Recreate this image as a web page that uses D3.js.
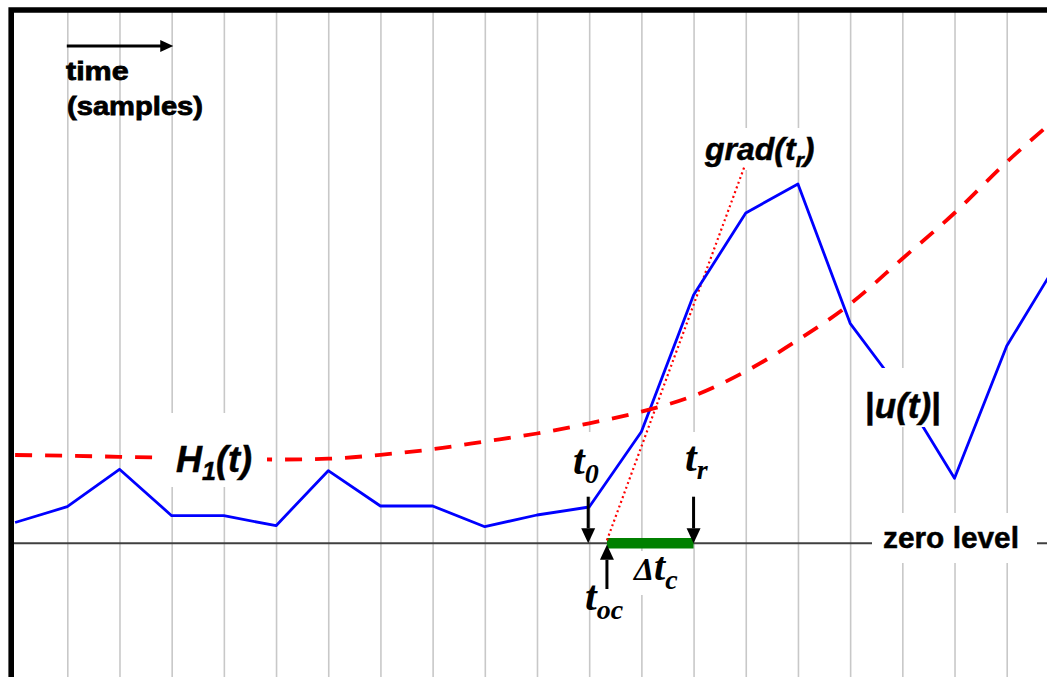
<!DOCTYPE html>
<html>
<head>
<meta charset="utf-8">
<script src="https://cdn.jsdelivr.net/npm/d3@7"></script>
<style>
  body { margin: 0; background: #fff; }
  svg { display: block; }
  .sans { font-family: "Liberation Sans", Arial, sans-serif; font-weight: bold; }
  .serif { font-family: "Liberation Serif", "Times New Roman", serif; font-weight: bold; font-style: italic; }
</style>
</head>
<body>
<svg id="chart" width="1047" height="677"></svg>
<script>
// Sample index (time, in samples)
const samples = d3.range(0, 21);
// Rectified signal |u(t)| per sample
const signal = [2.08, 3.66, 7.40, 2.76, 2.76, 1.76, 7.26, 3.73, 3.73, 1.66, 2.83,
                3.63, 11.16, 24.83, 33.03, 35.93, 22.00, 15.03, 6.50, 19.73, 28.33];
// Adaptive threshold H1(t) per sample
const threshold = [8.83, 8.75, 8.65, 8.55, 8.50, 8.38, 8.46, 8.85, 9.41, 10.18, 10.98,
                   12.00, 13.16, 14.75, 17.20, 20.33, 23.93, 28.46, 33.03, 38.13, 42.70];
// Vertical grid at every sample
const gridSamples = d3.range(1, 21);
// Event markers (sample units)
const onsetSample = 11;        // t0
const riseSample = 13;         // tr
const crossingSample = 11.34;  // toc, where grad(tr) meets zero level
const gradientTop = [13.97, 37.6];

const W = 1047, H = 677;
const svg = d3.select("#chart");

const x = d3.scaleLinear().domain([0, 20]).range([15.1, 15.1 + 20 * 52.19]);
const y = d3.scaleLinear().domain([0, 50]).range([543.3, 43.3]);

// vertical sample grid
const grid = svg.append("g")
  .attr("transform", `translate(0,${H})`)
  .call(d3.axisBottom(x).tickValues(gridSamples).tickSize(-(H - 12)).tickFormat(""));
grid.select(".domain").remove();
grid.selectAll(".tick line").attr("stroke", "#c8c8c8").attr("stroke-width", 1.6);

// zero level
svg.append("line")
  .attr("x1", 11).attr("x2", W)
  .attr("y1", y(0)).attr("y2", y(0))
  .attr("stroke", "#404040").attr("stroke-width", 2);

// label backgrounds that mask grid and zero line
const maskBoxes = [
  [872, 513, 165, 50],   // zero level
  [570, 432, 34, 65],    // t0
  [682, 432, 30, 65],    // tr
  [700, 128, 122, 42],   // grad(tr)
  [632, 551, 58, 44]     // Δtc
];
svg.append("g").selectAll("rect").data(maskBoxes).join("rect")
  .attr("x", d => d[0]).attr("y", d => d[1])
  .attr("width", d => d[2]).attr("height", d => d[3])
  .attr("fill", "#fff");

// Δtc interval on zero level
svg.append("line")
  .attr("x1", x(crossingSample)).attr("x2", x(riseSample))
  .attr("y1", y(0)).attr("y2", y(0))
  .attr("stroke", "#008000").attr("stroke-width", 10.5);

// tangent grad(tr)
svg.append("line")
  .attr("x1", x(crossingSample)).attr("y1", y(0) - 3)
  .attr("x2", x(gradientTop[0])).attr("y2", y(gradientTop[1]))
  .attr("stroke", "#ff0000").attr("stroke-width", 2.2)
  .attr("stroke-dasharray", "2,3");

// |u(t)|
const line = d3.line().x((d, i) => x(samples[i])).y(d => y(d));
svg.append("path")
  .attr("d", line(signal))
  .attr("fill", "none").attr("stroke", "#0000ff")
  .attr("stroke-width", 2.8).attr("stroke-linejoin", "round");

// H1(t)
const smooth = d3.line().x((d, i) => x(samples[i])).y(d => y(d)).curve(d3.curveMonotoneX);
svg.append("path")
  .attr("d", smooth(threshold))
  .attr("fill", "none").attr("stroke", "#ff0000")
  .attr("stroke-width", 3.8).attr("stroke-dasharray", "17,13");

// label backgrounds that also mask curves
const coverBoxes = [
  [154, 413, 113, 74],   // H1(t)
  [860, 368, 86, 59]     // |u(t)|
];
svg.append("g").selectAll("rect").data(coverBoxes).join("rect")
  .attr("x", d => d[0]).attr("y", d => d[1])
  .attr("width", d => d[2]).attr("height", d => d[3])
  .attr("fill", "#fff");

// arrows
function vArrow(xp, yFrom, yTo) {
  const dir = yTo > yFrom ? 1 : -1;
  const head = 15;
  svg.append("line")
    .attr("x1", xp).attr("x2", xp)
    .attr("y1", yFrom).attr("y2", yTo - dir * head)
    .attr("stroke", "#000").attr("stroke-width", 3);
  svg.append("path")
    .attr("d", `M${xp - 7},${yTo - dir * head} L${xp + 7},${yTo - dir * head} L${xp},${yTo} Z`)
    .attr("fill", "#000");
}
vArrow(x(onsetSample) - 1, 496.7, y(0));
vArrow(x(riseSample), 496.7, y(0));
vArrow(x(crossingSample), 589, y(0) + 1.5);

// time axis arrow
const ta0 = x(1) - 0.5, ta1 = x(3) + 1.6, tay = 46;
svg.append("line").attr("x1", ta0).attr("x2", ta1 - 12).attr("y1", tay).attr("y2", tay)
  .attr("stroke", "#000").attr("stroke-width", 3);
svg.append("path").attr("d", `M${ta1 - 13},${tay - 6} L${ta1},${tay} L${ta1 - 13},${tay + 6} Z`).attr("fill", "#000");

// texts
svg.append("text").attr("class", "sans").attr("x", 66).attr("y", 80)
  .attr("font-size", 26).attr("textLength", 62.7).attr("lengthAdjust", "spacingAndGlyphs")
  .attr("stroke", "#000").attr("stroke-width", 0.8).text("time");
svg.append("text").attr("class", "sans").attr("x", 67).attr("y", 115)
  .attr("font-size", 26).attr("textLength", 136).attr("lengthAdjust", "spacingAndGlyphs")
  .attr("stroke", "#000").attr("stroke-width", 0.8).text("(samples)");

svg.append("text").attr("class", "sans").attr("x", 883).attr("y", 548)
  .attr("font-size", 30).attr("textLength", 136).attr("lengthAdjust", "spacingAndGlyphs")
  .attr("stroke", "#000").attr("stroke-width", 0.5)
  .text("zero level");

// H1(t)
const h1 = svg.append("text").attr("class", "sans").attr("x", 176).attr("y", 472)
  .attr("font-size", 36).attr("font-style", "italic")
  .attr("stroke", "#000").attr("stroke-width", 0.5);
h1.append("tspan").text("H");
h1.append("tspan").attr("font-size", 25).attr("dy", 8).text("1");
h1.append("tspan").attr("dy", -8).text("(t)");

// grad(tr)
const gr = svg.append("text").attr("class", "sans").attr("x", 705).attr("y", 160)
  .attr("font-size", 32).attr("font-style", "italic")
  .attr("stroke", "#000").attr("stroke-width", 0.5);
gr.append("tspan").text("grad(t");
gr.append("tspan").attr("font-size", 21).attr("dy", 7).text("r");
gr.append("tspan").attr("dy", -7).text(")");

// |u(t)|
const ut = svg.append("text").attr("class", "sans").attr("x", 865).attr("y", 418)
  .attr("font-size", 35).attr("stroke", "#000").attr("stroke-width", 0.5);
ut.append("tspan").text("|");
ut.append("tspan").attr("font-style", "italic").text("u(t)");
ut.append("tspan").text("|");

// serif event labels
function subLabel(xp, yp, main, sub, subDy, mainSize, subSize) {
  const t = svg.append("text").attr("class", "serif").attr("x", xp).attr("y", yp)
    .attr("font-size", mainSize);
  t.append("tspan").text(main);
  t.append("tspan").attr("font-size", subSize).attr("dy", subDy).text(sub);
  return t;
}
subLabel(573, 474, "t", "0", 8.5, 42, 28);
subLabel(685, 471, "t", "r", 8, 42, 28);
subLabel(585, 610, "t", "oc", 9, 42, 28);
const dt = svg.append("text").attr("class", "serif").attr("x", 634).attr("y", 580);
dt.append("tspan").attr("font-size", 32).text("Δ");
dt.append("tspan").attr("font-size", 40).text("t");
dt.append("tspan").attr("font-size", 28).attr("dy", 9).text("c");

// frame
svg.append("path")
  .attr("d", `M11.2,${H} L11.2,10 L${W},10`)
  .attr("fill", "none").attr("stroke", "#000").attr("stroke-width", 5.6)
  .attr("stroke-linejoin", "miter");
</script>
</body>
</html>
